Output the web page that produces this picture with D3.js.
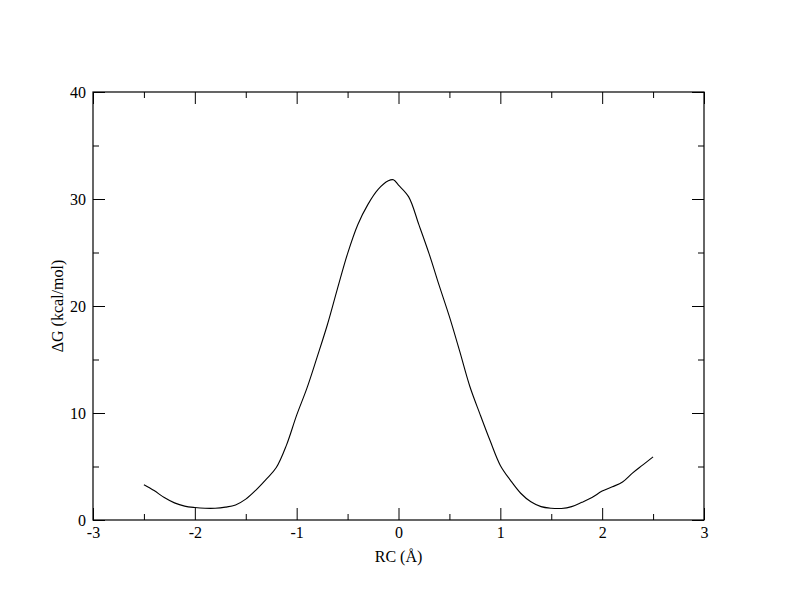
<!DOCTYPE html>
<html>
<head>
<meta charset="utf-8">
<script src="https://cdn.jsdelivr.net/npm/d3@7"></script>
<style>
  body { margin: 0; background: #fff; }
  text { font-family: "Liberation Serif", "DejaVu Serif", serif; fill: #000; }
</style>
</head>
<body>
<svg id="chart" width="792" height="612"></svg>
<script>
// reaction coordinate (Å) and free energy (kcal/mol)
const rc = [-2.5, -2.4, -2.3, -2.2, -2.1, -2.0, -1.9, -1.8, -1.7, -1.6,
  -1.5, -1.4, -1.3, -1.2, -1.1, -1.0, -0.9, -0.8, -0.7, -0.6,
  -0.5, -0.4, -0.3, -0.2, -0.1, -0.05, 0.0, 0.1, 0.2, 0.3,
  0.4, 0.5, 0.6, 0.7, 0.8, 0.9, 1.0, 1.1, 1.2, 1.3,
  1.4, 1.5, 1.6, 1.7, 1.8, 1.9, 2.0, 2.1, 2.2, 2.3,
  2.4, 2.5];
const dG = [3.3, 2.75, 2.1, 1.6, 1.3, 1.17, 1.1, 1.1, 1.2, 1.4,
  1.95, 2.8, 3.8, 4.9, 7.0, 9.8, 12.3, 15.2, 18.2, 21.6,
  24.9, 27.6, 29.5, 30.9, 31.7, 31.8, 31.3, 30.2, 27.6, 24.9,
  21.9, 19.0, 15.8, 12.5, 9.9, 7.4, 5.1, 3.7, 2.5, 1.7,
  1.25, 1.1, 1.08, 1.25, 1.65, 2.1, 2.7, 3.1, 3.55, 4.4,
  5.15, 5.9];
const xTicks = [-3, -2, -1, 0, 1, 2, 3];
const yTicks = [0, 10, 20, 30, 40];

const margin = { top: 92, right: 88, bottom: 92, left: 93 };
const width = 792 - margin.left - margin.right;
const height = 612 - margin.top - margin.bottom;
const serif = '"Liberation Serif", "DejaVu Serif", serif';

const svg = d3.select('#chart')
  .append('g')
  .attr('transform', `translate(${margin.left}, ${margin.top})`);

const x = d3.scaleLinear().domain([-3, 3]).range([0, width]);
const y = d3.scaleLinear().domain([0, 40]).range([height, 0]);

// inward ticks on all four sides, major + minor
const major = 12, minor = 6;
function addAxis(axis, transform, hideLabels) {
  const g = svg.append('g').attr('transform', transform).call(axis)
    .attr('font-family', serif)
    .attr('font-size', 16);
  g.select('.domain').remove();
  g.selectAll('line').attr('stroke', '#000').attr('stroke-width', 1);
  if (hideLabels) g.selectAll('text').remove();
  else g.selectAll('text').attr('fill', '#000');
  return g;
}

const xMinor = d3.range(-2.5, 3, 1);
const yMinor = d3.range(5, 40, 10);
const plain = d => String(d);

// bottom
addAxis(d3.axisBottom(x).tickValues(xTicks).tickSize(-major).tickPadding(7).tickFormat(plain),
  `translate(0, ${height})`, false);
addAxis(d3.axisBottom(x).tickValues(xMinor).tickSize(-minor), `translate(0, ${height})`, true);
// top
addAxis(d3.axisTop(x).tickValues(xTicks).tickSize(-major), 'translate(0, 0)', true);
addAxis(d3.axisTop(x).tickValues(xMinor).tickSize(-minor), 'translate(0, 0)', true);
// left
addAxis(d3.axisLeft(y).tickValues(yTicks).tickSize(-major).tickPadding(7).tickFormat(plain),
  'translate(0, 0)', false);
addAxis(d3.axisLeft(y).tickValues(yMinor).tickSize(-minor), 'translate(0, 0)', true);
// right
addAxis(d3.axisRight(y).tickValues(yTicks).tickSize(-major), `translate(${width}, 0)`, true);
addAxis(d3.axisRight(y).tickValues(yMinor).tickSize(-minor), `translate(${width}, 0)`, true);

// frame
svg.append('rect')
  .attr('width', width)
  .attr('height', height)
  .attr('fill', 'none')
  .attr('stroke', '#000')
  .attr('stroke-width', 1.2);

// the free energy curve
const line = d3.line()
  .x((d, i) => x(rc[i]))
  .y(d => y(d))
  .curve(d3.curveCatmullRom);

svg.append('path')
  .datum(dG)
  .attr('d', line)
  .attr('fill', 'none')
  .attr('stroke', '#000')
  .attr('stroke-width', 1.1);

// axis titles
svg.append('text')
  .attr('x', width / 2)
  .attr('y', height + 42)
  .attr('text-anchor', 'middle')
  .style('font-size', '16px')
  .text('RC (Å)');

svg.append('text')
  .attr('transform', `translate(-30, ${height / 2}) rotate(-90)`)
  .attr('text-anchor', 'middle')
  .style('font-size', '16px')
  .text('ΔG (kcal/mol)');
</script>
</body>
</html>
